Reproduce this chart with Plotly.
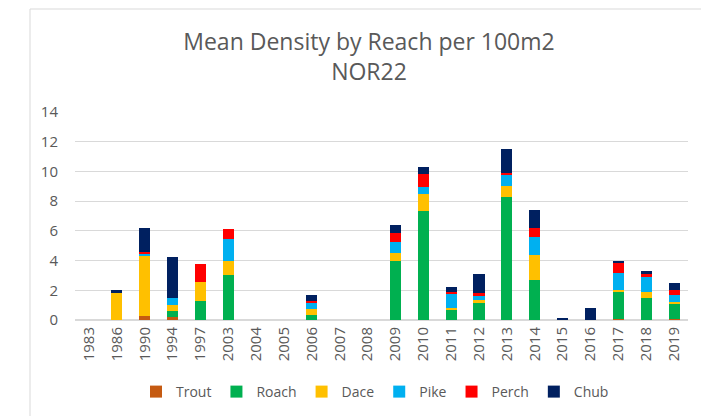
import plotly.graph_objects as go

years = ["1983", "1986", "1990", "1994", "1997", "2003", "2004", "2005", "2006", "2007", "2008",
         "2009", "2010", "2011", "2012", "2013", "2014", "2015", "2016", "2017", "2018", "2019"]

trout = [0, 0, 0.27, 0.18, 0, 0, 0, 0, 0, 0, 0,
         0, 0, 0, 0, 0, 0, 0, 0, 0.09, 0, 0.09]
roach = [0, 0, 0, 0.40, 1.30, 3.02, 0, 0, 0.32, 0, 0,
         4.00, 7.36, 0.65, 1.15, 8.28, 2.68, 0, 0, 1.80, 1.49, 0.97]
dace = [0, 1.80, 4.05, 0.40, 1.28, 0.92, 0, 0, 0.43, 0, 0,
        0.50, 1.13, 0.14, 0.18, 0.74, 1.69, 0, 0, 0.14, 0.40, 0.18]
pike = [0, 0, 0.18, 0.50, 0, 1.53, 0, 0, 0.45, 0, 0,
        0.72, 0.47, 0.97, 0.29, 0.74, 1.24, 0.02, 0, 1.13, 0.99, 0.45]
perch = [0, 0, 0.07, 0, 1.17, 0.63, 0, 0, 0.07, 0, 0,
         0.63, 0.88, 0.14, 0.18, 0.14, 0.61, 0, 0, 0.68, 0.23, 0.36]
chub = [0, 0.20, 1.60, 2.77, 0, 0, 0, 0, 0.40, 0, 0,
        0.54, 0.43, 0.34, 1.28, 1.58, 1.17, 0.13, 0.83, 0.07, 0.18, 0.43]

series = [("Trout", trout, "#C55A11"), ("Roach", roach, "#00B050"), ("Dace", dace, "#FFC000"),
          ("Pike", pike, "#00B0F0"), ("Perch", perch, "#FF0000"), ("Chub", chub, "#002060")]

OFF = 8  # browser body margin
W, H = 709 - OFF, 416 - OFF
# plot area, in screen pixels of the reference
SL, SR, ST, SB = 75, 688, 112, 320
L, R, T, B = SL - OFF, SR - OFF, ST - OFF, SB - OFF


def px(x):  # screen x -> paper
    return (x - SL) / (SR - SL)


def py(y):  # screen y -> paper
    return (SB - y) / (SB - ST)


fig = go.Figure()
for name, vals, col in series:
    fig.add_trace(go.Bar(x=years, y=vals, name=name, marker=dict(color=col, line=dict(width=0))))

font_family = "Open Sans"
gray = "#595959"

fig.update_layout(
    width=W, height=H,
    margin=dict(l=L, r=W - R, t=T, b=H - B, autoexpand=False),
    paper_bgcolor="white", plot_bgcolor="white",
    barmode="stack", bargap=0.6,
    font=dict(family=font_family, color=gray, size=15),
    title=dict(text="Mean Density by Reach per 100m2<br>NOR22",
               x=(369 - OFF) / W, xref="container", xanchor="center",
               y=1 - 42 / H, yref="container", yanchor="middle",
               font=dict(family=font_family, size=23, color=gray)),
    xaxis=dict(type="category", tickangle=-90, showgrid=False, showline=True,
               linecolor="#D9D9D9", linewidth=1, ticks="", tickfont=dict(size=15, color=gray)),
    yaxis=dict(range=[0, 14], dtick=2, showgrid=True, gridcolor="#D9D9D9", gridwidth=1,
               zeroline=True, zerolinecolor="#D9D9D9", showline=False, ticks="",
               ticklabelstandoff=16, tickfont=dict(size=15, color=gray)),
    legend=dict(orientation="h", x=px(375), xanchor="center", y=py(392), yanchor="middle",
                font=dict(size=14, color=gray), itemwidth=30, traceorder="normal",
                bgcolor="rgba(0,0,0,0)"),
    showlegend=True,
)

fig.add_shape(type="rect", xref="paper", yref="paper",
              x0=px(30), x1=px(760), y0=py(480), y1=py(9),
              line=dict(color="#D9D9D9", width=1), fillcolor="rgba(0,0,0,0)", layer="below")

fig.write_html("out.html")
